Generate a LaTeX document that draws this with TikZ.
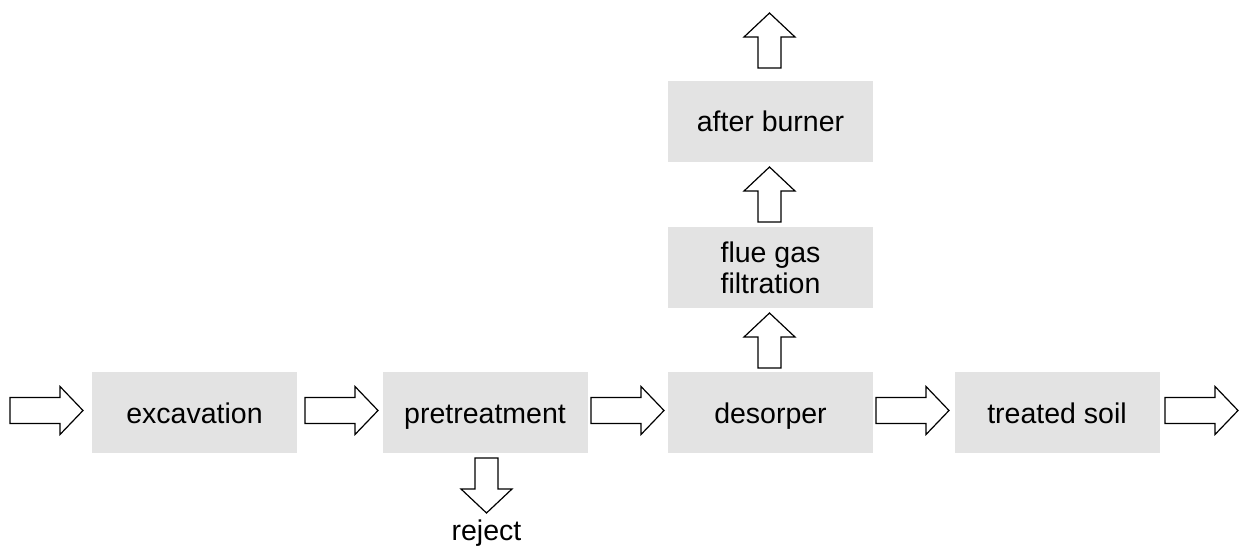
\documentclass[tikz,border=0pt]{standalone}
\usepackage{fontspec}
\setmainfont{Liberation Sans}
\definecolor{boxgray}{RGB}{227,227,227}
\begin{document}
\begin{tikzpicture}[x=1pt,y=-1pt,
  procbase/.style={fill=boxgray,draw=none,minimum width=205pt,minimum height=81pt,inner sep=0pt,
    align=center,font=\fontsize{28.5}{31}\selectfont},
  proc/.style={procbase,text height=24pt,text depth=3pt},
  lbl/.style={inner sep=0pt,font=\fontsize{28.5}{31}\selectfont},
  harrow/.pic={\draw[fill=white,line width=1.2pt,line join=miter]
    (0,-13) -- (50,-13) -- (50,-24) -- (73,0) -- (50,24) -- (50,13) -- (0,13) -- cycle;},
  varrow/.pic={\draw[fill=white,line width=1.2pt,line join=miter]
    (0,-11.5) -- (31,-11.5) -- (31,-25.5) -- (55,0) -- (31,25.5) -- (31,11.5) -- (0,11.5) -- cycle;}]
\useasboundingbox (0,0) rectangle (1239,548);
% process boxes
\node[proc] (exc)  at (194.5,412.5) {excavation};
\node[proc] (pre)  at (485,412.5)   {pretreatment};
\node[proc] (des)  at (770.5,412.5) {desorper};
\node[proc] (soil) at (1057,412.5)  {treated soil};
\node[procbase] (flue) at (770.5,267.5) {flue gas\\filtration};
\node[proc] (aft)  at (770.5,121.5) {after burner};
\node[lbl,anchor=base] (rej) at (486.5,540) {reject};
% horizontal block arrows
\pic at (10,410.5) {harrow};
\pic at (305,410.5) {harrow};
\pic at (591,410.5) {harrow};
\pic at (876,410.5) {harrow};
\pic at (1165,410.5) {harrow};
% vertical block arrows
\pic[rotate=90] at (769.5,368) {varrow};
\pic[rotate=90] at (769.5,222) {varrow};
\pic[rotate=90] at (769.5,68) {varrow};
\pic[rotate=-90] at (486.5,458) {varrow};
\end{tikzpicture}
\end{document}
